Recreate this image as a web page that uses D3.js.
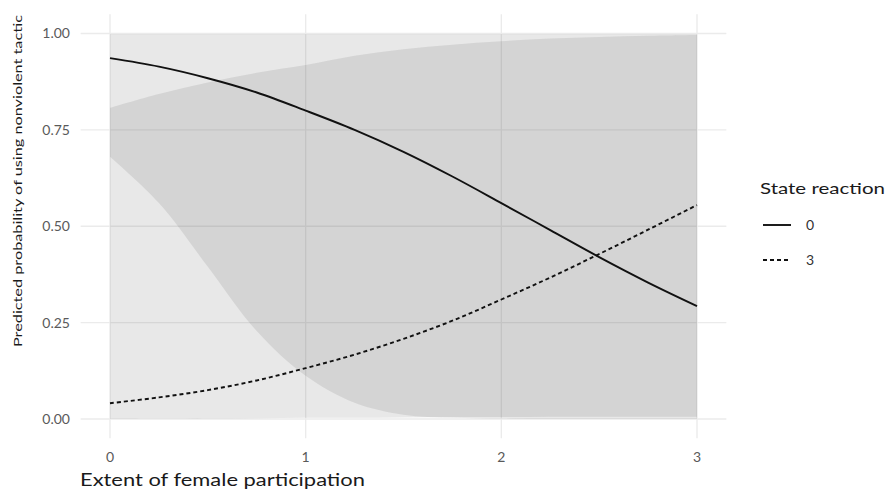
<!DOCTYPE html>
<html>
<head>
<meta charset="utf-8">
<script src="https://cdn.jsdelivr.net/npm/d3@7"></script>
<style>
  html, body { margin: 0; padding: 0; background: #fff; }
  svg { display: block; font-family: Lato, "Noto Sans", sans-serif; }
</style>
</head>
<body>
<svg id="chart" width="888" height="493"></svg>
<script>
// ---- data ----
const femaleParticipation = [0, 0.25, 0.5, 0.75, 1, 1.25, 1.5, 1.75, 2, 2.25, 2.5, 2.75, 3];
const prob0  = [0.936, 0.914, 0.884, 0.847, 0.800, 0.750, 0.693, 0.629, 0.560, 0.490, 0.420, 0.354, 0.293];
const lower0 = [0.680, 0.560, 0.395, 0.228, 0.112, 0.042, 0.011, 0.003, 0.001, 0.000, 0.000, 0.000, 0.000];
const upper0 = [0.999, 0.999, 0.999, 0.999, 0.999, 0.999, 0.999, 0.999, 0.999, 0.999, 0.999, 0.999, 0.999];
const prob3  = [0.041, 0.056, 0.075, 0.100, 0.132, 0.167, 0.208, 0.255, 0.310, 0.367, 0.428, 0.491, 0.555];
const lower3 = [0.000, 0.001, 0.001, 0.002, 0.003, 0.003, 0.004, 0.005, 0.005, 0.006, 0.006, 0.006, 0.006];
const upper3 = [0.807, 0.843, 0.873, 0.898, 0.918, 0.942, 0.959, 0.971, 0.980, 0.987, 0.991, 0.994, 0.996];
const xTicks = [0, 1, 2, 3];
const yTicks = [0, 0.25, 0.5, 0.75, 1];
const yTickLabels = ["0.00", "0.25", "0.50", "0.75", "1.00"];
const seriesNames = ["0", "3"];
const legendTitle = "State reaction";
const xTitle = "Extent of female participation";
const yTitle = "Predicted probability of using nonviolent tactic";

const svg = d3.select("#chart");
const x = d3.scaleLinear().domain([0, 3]).range([110, 697]);
const y = d3.scaleLinear().domain([0, 1]).range([419, 33.5]);
const xLo = x(-0.15), xHi = x(3.15), yLo = y(-0.05), yHi = y(1.05);

// grid
const grid = svg.append("g");
grid.selectAll("line.h").data(yTicks).join("line")
  .attr("x1", xLo).attr("x2", xHi)
  .attr("y1", d => y(d)).attr("y2", d => y(d))
  .attr("stroke", "#ebebeb").attr("stroke-width", 1.4);
grid.selectAll("line.v").data(xTicks).join("line")
  .attr("y1", yLo).attr("y2", yHi)
  .attr("x1", d => x(d)).attr("x2", d => x(d))
  .attr("stroke", "#ebebeb").attr("stroke-width", 1.4);

// ribbons
const rows = femaleParticipation.map((v, i) => ({x: v, p0: prob0[i], l0: lower0[i], u0: upper0[i], p3: prob3[i], l3: lower3[i], u3: upper3[i]}));
const curve = d3.curveCatmullRom.alpha(0.5);
const area0 = d3.area().x(d => x(d.x)).y0(d => Math.min(y(d.l0), y(0))).y1(d => y(d.u0)).curve(curve);
const area3 = d3.area().x(d => x(d.x)).y0(d => y(d.l3)).y1(d => y(d.u3)).curve(curve);
svg.append("path").datum(rows).attr("d", area0).attr("fill", "#5d5d5d").attr("fill-opacity", 0.14);
svg.append("path").datum(rows).attr("d", area3).attr("fill", "#5d5d5d").attr("fill-opacity", 0.14);

// lines
const line0 = d3.line().x(d => x(d.x)).y(d => y(d.p0)).curve(curve);
const line3 = d3.line().x(d => x(d.x)).y(d => y(d.p3)).curve(curve);
svg.append("path").datum(rows).attr("d", line0).attr("fill", "none").attr("stroke", "#111").attr("stroke-width", 1.9);
svg.append("path").datum(rows).attr("d", line3).attr("fill", "none").attr("stroke", "#111").attr("stroke-width", 1.9).attr("stroke-dasharray", "4,3");

// axis labels
svg.append("g").selectAll("text").data(yTicks).join("text")
  .attr("x", 70).attr("y", d => y(d)).attr("dy", "0.35em")
  .attr("text-anchor", "end").attr("font-size", 14).attr("fill", "#5a5a5a")
  .text((d, i) => yTickLabels[i]);
svg.append("g").selectAll("text").data(xTicks).join("text")
  .attr("x", d => x(d)).attr("y", 457).attr("dy", "0.35em")
  .attr("text-anchor", "middle").attr("font-size", 14).attr("fill", "#5a5a5a")
  .text(d => d3.format("d")(d));

// titles
svg.append("text").attr("x", 80).attr("y", 486)
  .attr("font-size", 17).attr("fill", "#1a1a1a")
  .attr("textLength", 285).attr("lengthAdjust", "spacingAndGlyphs")
  .text(xTitle);
svg.append("text").attr("transform", "translate(22,347) rotate(-90)")
  .attr("font-size", 12.3).attr("fill", "#1a1a1a")
  .attr("textLength", 332).attr("lengthAdjust", "spacingAndGlyphs")
  .text(yTitle);

// legend
const lg = svg.append("g");
lg.append("text").attr("x", 760).attr("y", 188).attr("dy", "0.35em")
  .attr("font-size", 16).attr("fill", "#1a1a1a")
  .attr("textLength", 125).attr("lengthAdjust", "spacingAndGlyphs")
  .text(legendTitle);
const keys = lg.selectAll("g.key").data(seriesNames).join("g")
  .attr("transform", (d, i) => `translate(0,${225 + i * 35})`);
keys.append("line").attr("x1", 763).attr("x2", 791).attr("y1", 0).attr("y2", 0)
  .attr("stroke", "#111").attr("stroke-width", 1.9)
  .attr("stroke-dasharray", (d, i) => i === 1 ? "4,3" : null);
keys.append("text").attr("x", 806).attr("y", 0).attr("dy", "0.35em")
  .attr("font-size", 14).attr("fill", "#333").text(d => d);
</script>
</body>
</html>
